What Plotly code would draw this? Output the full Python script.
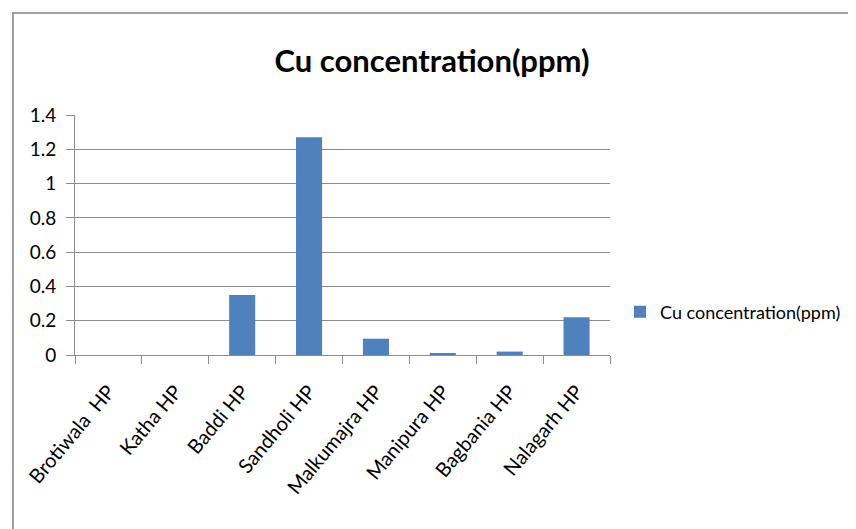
import plotly.graph_objects as go

categories = ["Brotiwala  HP", "Katha HP", "Baddi HP", "Sandholi HP",
              "Malkumajra HP", "Manipura HP", "Bagbania HP", "Nalagarh HP"]
cu_values = [0.0, 0.0, 0.35, 1.27, 0.095, 0.01, 0.02, 0.22]
y_ticks = [0, 0.2, 0.4, 0.6, 0.8, 1, 1.2, 1.4]
series_name = "Cu concentration(ppm)"
title_text = "Cu concentration(ppm)"

FONT = "Lato"
OFF = 8  # page body margin
W, H = 856 - OFF, 529 - OFF
L, R, T, B = 75 - OFF, 246, 115 - OFF, 174
pw, ph = W - L - R, H - T - B

def px_x(x):  # reference screen pixel -> plot-domain paper coordinate
    return (x - OFF - L) / pw

def px_y(y):
    return (H - B - (y - OFF)) / ph

fig = go.Figure()
fig.add_trace(go.Bar(
    x=categories, y=cu_values, name=series_name,
    marker=dict(color="#4F81BD", line=dict(width=0)),
    showlegend=True,
))

fig.update_layout(
    width=W, height=H,
    margin=dict(l=L, r=R, t=T, b=B, autoexpand=False),
    paper_bgcolor="white", plot_bgcolor="white",
    font=dict(family=FONT, color="#000000"),
    bargap=0.61,
    title=dict(text=title_text, x=(432 - OFF) / W, xanchor="center",
               y=1 - (61 - OFF) / H, yanchor="middle",
               font=dict(family=FONT, size=31, color="#000000", weight="bold")),
    legend=dict(x=px_x(620), y=px_y(312), xanchor="left", yanchor="middle",
                font=dict(family=FONT, size=18, color="#000000"),
                bgcolor="rgba(0,0,0,0)", itemwidth=30),
    showlegend=True,
)

fig.update_yaxes(
    range=[0, 1.4], tickvals=y_ticks, ticktext=[f"{v:g}" for v in y_ticks],
    showgrid=True, gridcolor="#8c8c8c", gridwidth=1,
    showline=True, linecolor="#8c8c8c", linewidth=1,
    ticks="outside", ticklen=8, tickcolor="#8c8c8c", ticklabelstandoff=6,
    tickfont=dict(family=FONT, size=19, color="#000000"),
    zeroline=False,
)
fig.update_xaxes(
    type="category", tickangle=-50,
    showline=True, linecolor="#8c8c8c", linewidth=1,
    ticks="outside", ticklen=8, tickcolor="#8c8c8c", tickson="boundaries",
    ticklabelstandoff=16,
    tickfont=dict(family=FONT, size=20, color="#000000"),
    showgrid=False,
)

fig.add_shape(type="rect", xref="paper", yref="paper",
              x0=px_x(13), x1=px_x(900), y0=px_y(560), y1=px_y(13),
              line=dict(color="#a0a0a0", width=2), fillcolor="rgba(0,0,0,0)",
              layer="below")

fig.write_html("out.html")
